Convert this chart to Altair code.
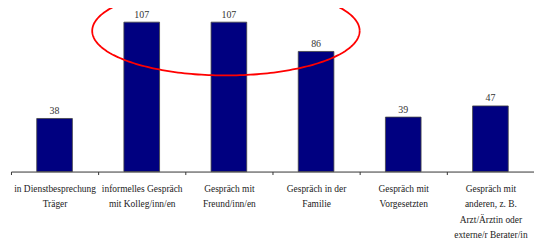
import altair as alt
import pandas as pd
import numpy as np

categories = [
    "in Dienstbesprechung|Träger",
    "informelles Gespräch|mit Kolleg/inn/en",
    "Gespräch mit|Freund/inn/en",
    "Gespräch in der|Familie",
    "Gespräch mit|Vorgesetzten",
    "Gespräch mit|anderen, z. B.|Arzt/Ärztin oder|externe/r Berater/in",
]
values = [38, 107, 107, 86, 39, 47]

df = pd.DataFrame({"cat": categories, "val": values})

W, H = 528, 160
FONT = "Liberation Sans Narrow"

x_enc = alt.X("cat:N", sort=None, title=None,
              scale=alt.Scale(paddingInner=0, paddingOuter=0),
              axis=alt.Axis(labelExpr="split(datum.label, '|')", labelAngle=0,
                            labelFont=FONT, labelFontSize=9.5, labelColor="#222",
                            labelLineHeight=15.5, labelPadding=9, tickSize=3,
                            tickBand="extent", domainColor="#333", tickColor="#333",
                            labelBaseline="top"))
y_enc = alt.Y("val:Q", scale=alt.Scale(domain=[0, 113.5], nice=False, zero=True), axis=None)

bars = alt.Chart(df).mark_bar(size=36, color="#000080", stroke="#444",
                              strokeWidth=0.8).encode(x=x_enc, y=y_enc)
labels = alt.Chart(df).mark_text(baseline="alphabetic", dy=-4.5, font=FONT,
                                 fontSize=10, color="#333").encode(
    x=alt.X("cat:N", sort=None), y="val:Q", text="val:Q")

# red annotation ellipse (in pixel space of the plot area)
cx, cy, a, b = 217, 18, 135, 45
t = np.linspace(0, 2 * np.pi, 241)
ell = pd.DataFrame({"px": cx + a * np.cos(t), "py": cy + b * np.sin(t), "i": np.arange(len(t))})
ellipse = alt.Chart(ell).mark_line(color="#ff0000", strokeWidth=1.8, clip=False).encode(
    x=alt.X("px:Q", scale=alt.Scale(domain=[0, W], range=[0, W], nice=False, zero=False), axis=None),
    y=alt.Y("py:Q", scale=alt.Scale(domain=[0, H], range=[0, H], nice=False, zero=False), axis=None),
    order="i:Q",
)

base = alt.layer(bars, labels)
chart = alt.layer(base, ellipse).resolve_scale(x="independent", y="independent").properties(
    width=W, height=H,
    autosize=alt.AutoSizeParams(type="none"),
    padding={"left": 3, "top": 4, "right": 0, "bottom": 70},
).configure_view(stroke=None)

chart.save("out.html", embed_options={"renderer": "svg", "actions": False})
